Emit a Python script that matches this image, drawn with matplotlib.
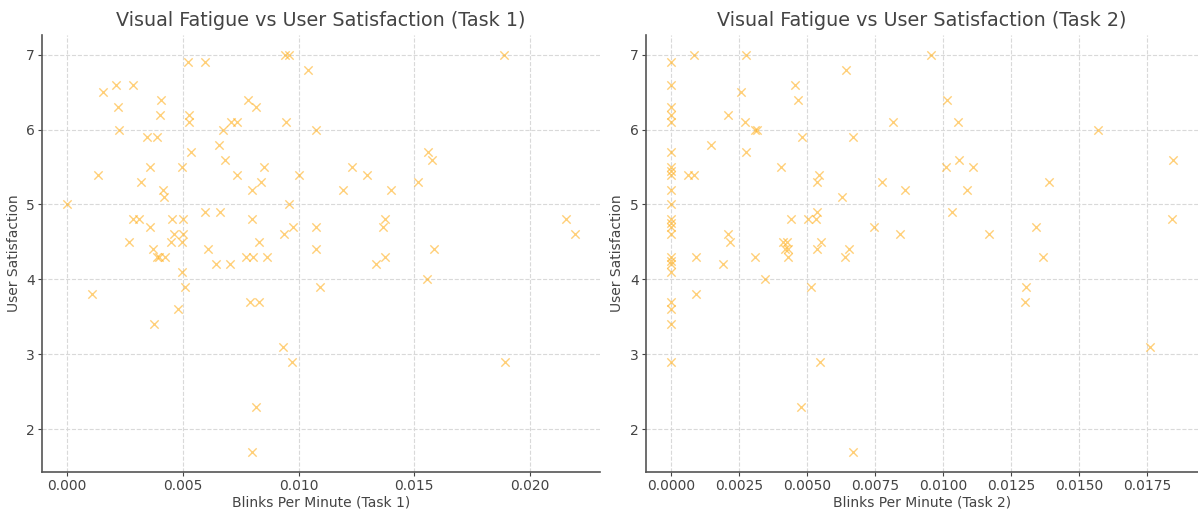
import matplotlib
matplotlib.use("Agg")
import matplotlib.pyplot as plt

# Task 1 data (blinks per minute, satisfaction)
blinks_task1 = [
    0.0, 0.00522, 0.00597, 0.00942, 0.00957, 0.01042, 0.00153, 0.00211, 0.00286, 0.00221,
    0.00407, 0.00401, 0.00528, 0.00528, 0.00782, 0.00815, 0.00222, 0.00346, 0.00387, 0.00672,
    0.00706, 0.00733, 0.00947, 0.01077, 0.00535, 0.00655, 0.00683, 0.00134, 0.00359, 0.00498,
    0.00732, 0.0085, 0.0032, 0.00416, 0.00418, 0.00797, 0.00837, 0.01004, 0.0096, 0.00283,
    0.00312, 0.00359, 0.00453, 0.00502, 0.00597, 0.00659, 0.00799, 0.00268, 0.00447, 0.00463,
    0.00502, 0.00495, 0.00369, 0.00387, 0.00395, 0.00424, 0.00609, 0.00641, 0.00704, 0.00773,
    0.00805, 0.00863, 0.00831, 0.00938, 0.00978, 0.01074, 0.01076, 0.00496, 0.00511, 0.01095,
    0.00108, 0.00788, 0.00828, 0.00479, 0.00374, 0.00935, 0.00973, 0.00817, 0.00798,
    0.0189, 0.01232, 0.01296, 0.01192, 0.01398, 0.01518, 0.01558, 0.01579, 0.01374, 0.01365,
    0.01587, 0.01374, 0.01335, 0.01555, 0.01895, 0.02156, 0.02195,
]
satisfaction_task1 = [
    5.0, 6.9, 6.9, 7.0, 7.0, 6.8, 6.5, 6.6, 6.6, 6.3,
    6.4, 6.2, 6.2, 6.1, 6.4, 6.3, 6.0, 5.9, 5.9, 6.0,
    6.1, 6.1, 6.1, 6.0, 5.7, 5.8, 5.6, 5.4, 5.5, 5.5,
    5.4, 5.5, 5.3, 5.2, 5.1, 5.2, 5.3, 5.4, 5.0, 4.8,
    4.8, 4.7, 4.8, 4.8, 4.9, 4.9, 4.8, 4.5, 4.5, 4.6,
    4.6, 4.5, 4.4, 4.3, 4.3, 4.3, 4.4, 4.2, 4.2, 4.3,
    4.3, 4.3, 4.5, 4.6, 4.7, 4.7, 4.4, 4.1, 3.9, 3.9,
    3.8, 3.7, 3.7, 3.6, 3.4, 3.1, 2.9, 2.3, 1.7,
    7.0, 5.5, 5.4, 5.2, 5.2, 5.3, 5.7, 5.6, 4.8, 4.7,
    4.4, 4.3, 4.2, 4.0, 2.9, 4.8, 4.6,
]

# Task 2 data
blinks_task2 = [
    0.0, 0.0, 0.0, 0.0, 0.0, 0.0, 0.0, 0.0, 0.0, 0.0,
    0.0, 0.0, 0.0, 0.0, 0.0, 0.0, 0.0, 0.0, 0.0, 0.0,
    0.0, 0.0, 0.0,
    0.00087, 0.00275, 0.00257, 0.0021, 0.00273, 0.0031, 0.00316, 0.00147, 0.00278, 0.00063,
    0.00085, 0.00457, 0.00467, 0.00482, 0.00405, 0.00545, 0.00536, 0.00644, 0.0067, 0.00628,
    0.00441, 0.00505, 0.00532, 0.00537, 0.00212, 0.00218, 0.00091, 0.0019, 0.00309, 0.00348,
    0.00411, 0.00427, 0.0043, 0.0042, 0.00429, 0.00552, 0.00538, 0.00639, 0.00655, 0.00748,
    0.00778, 0.00816, 0.0086, 0.00844, 0.00093, 0.00514, 0.00547, 0.00478, 0.00669,
    0.00956, 0.01016, 0.01055, 0.0101, 0.01059, 0.0111, 0.0109, 0.01033, 0.01171, 0.0139,
    0.01342, 0.0137, 0.01305, 0.01302, 0.01571, 0.01762, 0.01846, 0.01844,
]
satisfaction_task2 = [
    6.9, 6.6, 6.3, 6.2, 6.1, 5.7, 5.5, 5.4, 5.2, 5.0,
    4.8, 4.7, 4.6, 4.3, 4.2, 4.1, 3.7, 3.6, 3.4, 2.9,
    4.75, 4.25, 5.45,
    7.0, 7.0, 6.5, 6.2, 6.1, 6.0, 6.0, 5.8, 5.7, 5.4,
    5.4, 6.6, 6.4, 5.9, 5.5, 5.4, 5.3, 6.8, 5.9, 5.1,
    4.8, 4.8, 4.8, 4.9, 4.6, 4.5, 4.3, 4.2, 4.3, 4.0,
    4.5, 4.5, 4.4, 4.4, 4.3, 4.5, 4.4, 4.3, 4.4, 4.7,
    5.3, 6.1, 5.2, 4.6, 3.8, 3.9, 2.9, 2.3, 1.7,
    7.0, 6.4, 6.1, 5.5, 5.6, 5.5, 5.2, 4.9, 4.6, 5.3,
    4.7, 4.3, 3.9, 3.7, 6.0, 3.1, 5.6, 4.8,
]

text_color = "#444444"
plt.rcParams["font.family"] = ["DejaVu Sans"]

fig = plt.figure(figsize=(11.98, 5.11), dpi=100)
ax1 = fig.add_axes([0.035, 0.077, 0.466, 0.855])
ax2 = fig.add_axes([0.539, 0.077, 0.461, 0.855])

panels = [
    (ax1, blinks_task1, satisfaction_task1, "Task 1"),
    (ax2, blinks_task2, satisfaction_task2, "Task 2"),
]
for ax, xs, ys, task in panels:
    ax.scatter(xs, ys, marker="x", color="#FFB020", alpha=0.6, s=36, linewidths=1.0)
    ax.set_title(f"Visual Fatigue vs User Satisfaction ({task})", fontsize=13.8, color=text_color, pad=6)
    ax.set_xlabel(f"Blinks Per Minute ({task})", fontsize=10, color=text_color, labelpad=2)
    ax.set_ylabel("User Satisfaction", fontsize=10, color=text_color, labelpad=4)
    ax.grid(True, linestyle="--", color="#d9d9d9", linewidth=0.8)
    ax.set_axisbelow(True)
    ax.spines["top"].set_visible(False)
    ax.spines["right"].set_visible(False)
    for s in ("left", "bottom"):
        ax.spines[s].set_color("#555555")
        ax.spines[s].set_linewidth(1.2)
    ax.tick_params(labelsize=10, colors=text_color, length=3, pad=2)

fig.savefig("out.png", dpi=100)
